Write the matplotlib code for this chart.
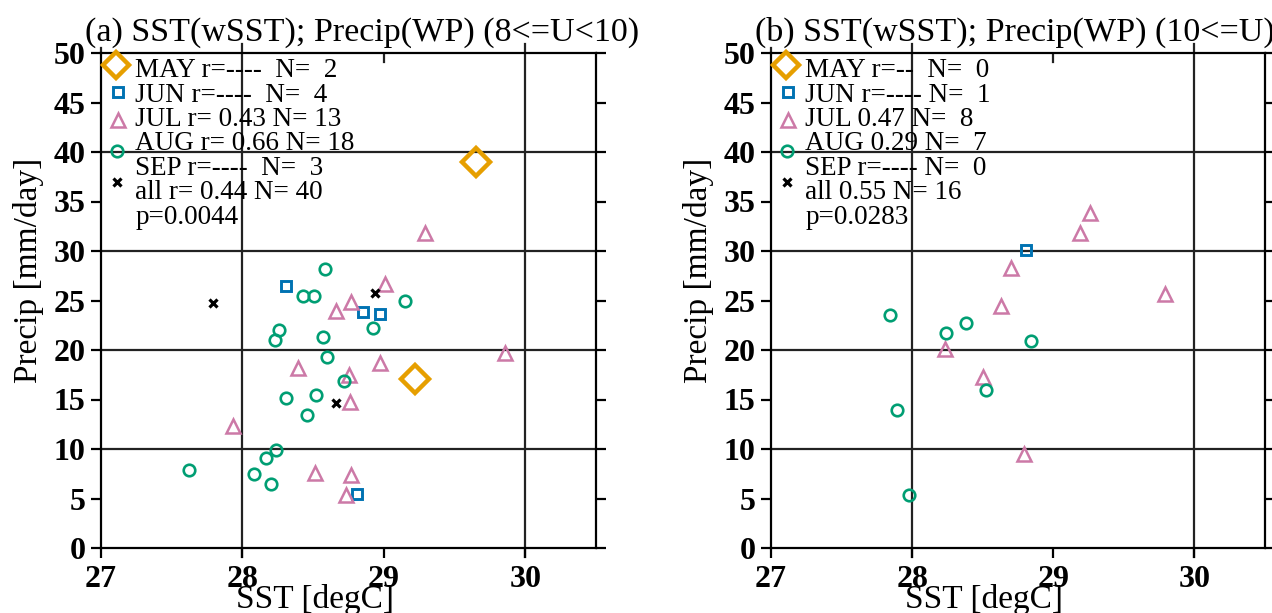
import matplotlib
matplotlib.use('Agg')
import matplotlib.pyplot as plt

plt.rcParams['font.family'] = ['Liberation Serif', 'DejaVu Serif']

# ---------------- data ----------------
colors = {'MAY': '#E69F00', 'JUN': '#0072B2', 'JUL': '#CC79A7',
          'AUG': '#009E73', 'SEP': '#000000'}

# panel (a) 8<=U<10
a_may_sst = [29.65, 29.22]
a_may_pr = [38.95, 17.1]
a_jun_sst = [28.31, 28.85, 28.97, 28.81]
a_jun_pr = [26.5, 23.8, 23.6, 5.5]
a_jul_sst = [27.93, 28.39, 29.01, 28.77, 28.66, 28.97, 28.75, 28.76,
             28.51, 28.77, 28.73, 29.29, 29.86]
a_jul_pr = [12.3, 18.15, 26.7, 24.8, 23.9, 18.7, 17.5, 14.7,
            7.6, 7.35, 5.35, 31.85, 19.65]
a_aug_sst = [28.585, 28.43, 28.505, 28.26, 28.23, 29.15, 28.92, 28.57, 28.60,
             28.72, 28.31, 28.52, 28.46, 27.62, 28.24, 28.17, 28.08, 28.20]
a_aug_pr = [28.15, 25.45, 25.45, 22.0, 21.0, 24.9, 22.2, 21.35, 19.3,
            16.9, 15.2, 15.45, 13.4, 7.9, 9.9, 9.05, 7.5, 6.45]
a_sep_sst = [27.79, 28.94, 28.66]
a_sep_pr = [24.7, 25.8, 14.6]
a_legend = ['MAY r=----  N=  2', 'JUN r=----  N=  4', 'JUL r= 0.43 N= 13',
            'AUG r= 0.66 N= 18', 'SEP r=----  N=  3', 'all r= 0.44 N= 40',
            'p=0.0044']
a_title = '(a) SST(wSST); Precip(WP) (8<=U<10)'

# panel (b) 10<=U
b_may_sst = []
b_may_pr = []
b_jun_sst = [28.81]
b_jun_pr = [30.1]
b_jul_sst = [28.70, 28.63, 28.23, 28.50, 28.79, 29.26, 29.19, 29.79]
b_jul_pr = [28.25, 24.45, 20.1, 17.3, 9.5, 33.8, 31.8, 25.7]
b_aug_sst = [27.84, 28.38, 28.24, 28.84, 28.52, 27.89, 27.98]
b_aug_pr = [23.5, 22.75, 21.75, 20.9, 15.95, 13.95, 5.4]
b_sep_sst = []
b_sep_pr = []
b_legend = ['MAY r=--  N=  0', 'JUN r=---- N=  1', 'JUL 0.47 N=  8',
            'AUG 0.29 N=  7', 'SEP r=---- N=  0', 'all 0.55 N= 16',
            'p=0.0283']
b_title = '(b) SST(wSST); Precip(WP) (10<=U)'

yticks = [0, 5, 10, 15, 20, 25, 30, 35, 40, 45, 50]
xticks = [27, 28, 29, 30]

# ---------------- styles ----------------
mstyle = {
    'MAY': dict(marker='D', ms=14.5, mew=3.2),
    'JUN': dict(marker='s', ms=7.2, mew=2.1),
    'JUL': dict(marker='^', ms=10.5, mew=1.8),
    'AUG': dict(marker='o', ms=8.3, mew=1.9),
    'SEP': dict(marker='x', ms=6.0, mew=2.3),
}

fig = plt.figure(figsize=(12.72, 6.13), dpi=100)
W, H = 1272, 613
ax_a = fig.add_axes([101 / W, 65 / H, 495 / W, 495 / H])
ax_b = fig.add_axes([771 / W, 65 / H, 494 / W, 495 / H])


def draw(ax, series, legend, title):
    for key, (xs, ys) in series.items():
        st = mstyle[key]
        ax.plot(xs, ys, linestyle='none', marker=st['marker'], ms=st['ms'],
                mew=st['mew'], mfc='none', mec=colors[key], zorder=5,
                clip_on=False)
    ax.set_xlim(27, 30.5)
    ax.set_ylim(0, 50)
    ax.set_xticks(xticks)
    ax.set_yticks(yticks)
    ax.set_xticklabels([str(v) for v in xticks])
    ax.set_yticklabels([str(v) for v in yticks])
    for lab in ax.get_xticklabels() + ax.get_yticklabels():
        lab.set_fontweight('bold')
        lab.set_fontsize(23)
    ax.tick_params(axis='y', which='both', direction='out', length=7,
                   width=1.6, left=True, right=True, pad=4)
    ax.tick_params(axis='x', which='both', direction='out', length=7,
                   width=1.6, bottom=True, top=False, pad=5)
    for s in ax.spines.values():
        s.set_linewidth(1.6)
    # grid lines
    for v in [10, 20, 30, 40]:
        ax.axhline(v, color='#222222', lw=1.6, zorder=1)
    for v in [28, 30]:
        ax.axvline(v, ymin=-0.018, ymax=1.018, color='#222222', lw=1.6,
                   zorder=1, clip_on=False)
    ax.axvline(27, ymin=1.0, ymax=1.01, color='#222222', lw=1.6, clip_on=False)
    ax.axvline(29, ymin=0.982, ymax=1.0, color='#222222', lw=1.6)

    ax.set_xlabel('SST [degC]', fontsize=24)
    ax.xaxis.set_label_coords(0.432, -0.105)
    ax.xaxis.label.set_va('center')
    ax.set_ylabel('Precip [mm/day]', fontsize=24)
    ax.yaxis.set_label_coords(-0.146, 0.56)
    ax.yaxis.label.set_va('center')

    ax.text(-0.033, 1.025, title, transform=ax.transAxes, fontsize=24.5,
            ha='left', va='baseline')

    # legend block
    keys = ['MAY', 'JUN', 'JUL', 'AUG', 'SEP']
    my = [0.976, 0.922, 0.8646, 0.802, 0.740]
    mx = [0.030, 0.035, 0.035, 0.032, 0.032]
    for k, x0, y0 in zip(keys, mx, my):
        st = mstyle[k]
        ms = st['ms'] if k != 'MAY' else st['ms'] * 0.9
        ax.plot([x0], [y0], transform=ax.transAxes, linestyle='none',
                marker=st['marker'], ms=ms, mew=st['mew'], mfc='none',
                mec=colors[k], clip_on=False, zorder=6)
    for i, line in enumerate(legend):
        ax.text(0.069, 0.951 - i * 0.0493, line, transform=ax.transAxes,
                fontsize=19.5, ha='left', va='baseline', zorder=7)


draw(ax_a, {'MAY': (a_may_sst, a_may_pr), 'JUN': (a_jun_sst, a_jun_pr),
            'JUL': (a_jul_sst, a_jul_pr), 'AUG': (a_aug_sst, a_aug_pr),
            'SEP': (a_sep_sst, a_sep_pr)}, a_legend, a_title)
draw(ax_b, {'MAY': (b_may_sst, b_may_pr), 'JUN': (b_jun_sst, b_jun_pr),
            'JUL': (b_jul_sst, b_jul_pr), 'AUG': (b_aug_sst, b_aug_pr),
            'SEP': (b_sep_sst, b_sep_pr)}, b_legend, b_title)

fig.savefig('out.png', dpi=100)
